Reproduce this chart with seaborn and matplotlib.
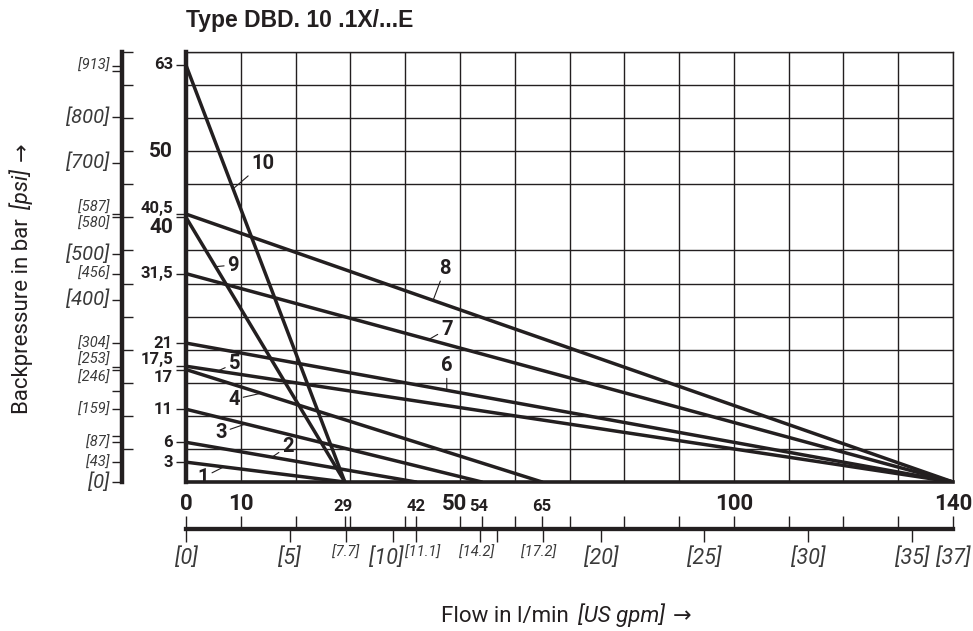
import numpy as np
import pandas as pd
import seaborn as sns
import matplotlib.pyplot as plt
from matplotlib import font_manager
from matplotlib.ticker import FixedLocator, NullFormatter

# characteristic curves: backpressure at zero flow [bar], flow at zero backpressure [l/min]
curve_ids = ['1', '2', '3', '4', '5', '6', '7', '8', '9', '10']
p_zero_flow = [3, 6, 11, 17, 17.5, 21, 31.5, 40.5, 40, 63]
q_zero_press = [29, 42, 54, 65, 140, 140, 140, 140, 29, 29]

# bar scale
bar_vals = [63, 50, 40.5, 40, 31.5, 21, 17.5, 17, 11, 6, 3]
bar_text = ['63', '50', '40,5', '40', '31,5', '21', '17,5', '17', '11', '6', '3']

# psi scale
psi_vals = [913, 800, 700, 587, 580, 500, 456, 400, 304, 253, 246, 159, 87, 43, 0]
psi_text = ['[913]', '[800]', '[700]', '[587]', '[580]', '[500]', '[456]', '[400]',
            '[304]', '[253]', '[246]', '[159]', '[87]', '[43]', '[0]']
psi_plain = [100, 200, 900]

# flow scale l/min
lpm_vals = [0, 10, 29, 42, 50, 54, 65, 100, 140]
lpm_text = ['0', '10', '29', '42', '50', '54', '65', '100', '140']

# flow scale US gpm
gpm_vals = [0, 5, 7.7, 10, 11.1, 14.2, 17.2, 20, 25, 30, 35, 37]
gpm_text = ['[0]', '[5]', '[7.7]', '[10]', '[11.1]', '[14.2]', '[17.2]',
            '[20]', '[25]', '[30]', '[35]', '[37]']
gpm_plain = [15]

PSI_PER_BAR = 14.5038
LPM_PER_GPM = 3.78541

df = pd.DataFrame({
    'curve': np.repeat(curve_ids, 2),
    'flow': np.column_stack([np.zeros(len(curve_ids)), q_zero_press]).ravel(),
    'bar': np.column_stack([p_zero_flow, np.zeros(len(curve_ids))]).ravel(),
})

sns.set_style('white')
names = {f.name for f in font_manager.fontManager.ttflist}
num_font = 'Liberation Sans Narrow' if 'Liberation Sans Narrow' in names else 'Roboto'
plt.rcParams['font.family'] = ['Roboto', 'DejaVu Sans']

ink = '#231f20'
grey = '#3a3a3a'
W, H = 973, 631

fig = plt.figure(figsize=(W / 100, H / 100), dpi=100)
ax = fig.add_axes([186 / W, 149 / H, 767 / W, 430 / H])

sns.lineplot(data=df, x='flow', y='bar', hue='curve', palette=[ink] * len(curve_ids),
             legend=False, linewidth=2.5, sort=False, estimator=None, ax=ax)

ax.set_xlim(0, 140)
ax.set_ylim(0, 65)
ax.xaxis.set_major_locator(FixedLocator(np.arange(0, 141, 10)))
ax.yaxis.set_major_locator(FixedLocator([v for v in bar_vals if v != 50]))
ax.yaxis.set_minor_locator(FixedLocator(np.arange(0, 66, 5)))
ax.xaxis.set_major_formatter(NullFormatter())
ax.yaxis.set_major_formatter(NullFormatter())
ax.tick_params(axis='x', which='both', length=0)
ax.tick_params(axis='y', which='minor', length=0)
ax.tick_params(axis='y', which='major', direction='out', length=7, width=1, color=ink, left=True)
ax.grid(True, axis='x', which='major', color=ink, lw=1.0)
ax.grid(True, axis='y', which='minor', color=ink, lw=1.0)
for side, lw in [('left', 3.2), ('bottom', 2.6), ('top', 1.0), ('right', 1.0)]:
    ax.spines[side].set_linewidth(lw)
    ax.spines[side].set_color(ink)
ax.set_xlabel('')
ax.set_ylabel('')

# psi axis
psi_loc = -0.0834
psi_ax = ax.secondary_yaxis(psi_loc, functions=(lambda b: b * PSI_PER_BAR,
                                                 lambda p: p / PSI_PER_BAR))
psi_ax.set_ticks(psi_vals + psi_plain)
psi_ax.yaxis.set_major_formatter(NullFormatter())
psi_ax.yaxis.set_minor_locator(FixedLocator([b * PSI_PER_BAR for b in range(5, 66, 5)]))
psi_ax.tick_params(which='major', direction='out', length=7, width=1, color=ink, labelleft=False)
psi_ax.tick_params(which='minor', direction='in', length=8, width=1, color=ink)
psi_ax.spines['left'].set_linewidth(3.2)
psi_ax.spines['left'].set_color(ink)

# flow axes below the chart
flow_loc = -0.1093
lpm_ax = ax.secondary_xaxis(flow_loc, functions=(lambda q: q, lambda q: q))
lpm_ax.set_ticks(list(range(0, 141, 10)) + [29, 42, 54, 65])
lpm_ax.tick_params(direction='in', length=9.5, width=1, color=ink, labelbottom=False)
gpm_ax = ax.secondary_xaxis(flow_loc, functions=(lambda q: q / LPM_PER_GPM,
                                                  lambda g: g * LPM_PER_GPM))
gpm_ax.set_ticks(gpm_vals + gpm_plain)
gpm_ax.tick_params(direction='out', length=9.5, width=1, color=ink, labelbottom=False)
for sec in (lpm_ax, gpm_ax):
    sec.spines['bottom'].set_linewidth(3)
    sec.spines['bottom'].set_color(ink)

# bar labels
bar_big = {'50', '40'}
bar_dy = {'63': 1, '40,5': 6, '40': -10, '17,5': 7, '17': -8}
for v, s in zip(bar_vals, bar_text):
    ax.annotate(s, xy=(0, v), xycoords=ax.get_yaxis_transform(),
                xytext=(-13, bar_dy.get(s, 0)), textcoords='offset pixels',
                ha='right', va='center', fontsize=15 if s in bar_big else 12,
                fontweight='bold', family=[num_font, 'DejaVu Sans'], color=ink,
                annotation_clip=False)

# psi labels
psi_big = {'[800]', '[700]', '[500]', '[400]', '[0]'}
psi_dy = {'[587]': 6, '[580]': -6, '[253]': 7, '[246]': -8}
for v, s in zip(psi_vals, psi_text):
    ax.annotate(s, xy=(psi_loc, v / PSI_PER_BAR), xycoords=ax.get_yaxis_transform(),
                xytext=(-13, psi_dy.get(s, 0)), textcoords='offset pixels',
                ha='right', va='center', fontsize=14.5 if s in psi_big else 10.5,
                style='italic', family=[num_font, 'DejaVu Sans'], color=grey,
                annotation_clip=False)

# l/min labels
lpm_big = {'0', '10', '50', '100', '140'}
lpm_dx = {'50': -5, '54': -3, '29': -2}
for v, s in zip(lpm_vals, lpm_text):
    big = s in lpm_big
    ax.annotate(s, xy=(v, 0), xycoords=ax.get_xaxis_transform(),
                xytext=(lpm_dx.get(s, 0), -27.5 if big else -29), textcoords='offset pixels',
                ha='center', va='baseline', fontsize=16 if big else 12,
                fontweight='bold', family=[num_font, 'DejaVu Sans'], color=ink,
                annotation_clip=False)

# gpm labels
gpm_small = {'[7.7]', '[11.1]', '[14.2]', '[17.2]'}
gpm_dx = {'[10]': -7, '[11.1]': 6.5, '[14.2]': -4, '[17.2]': -4}
for v, s in zip(gpm_vals, gpm_text):
    small = s in gpm_small
    ax.annotate(s, xy=(v * LPM_PER_GPM, flow_loc), xycoords=ax.get_xaxis_transform(),
                xytext=(gpm_dx.get(s, 0), -24 if small else -29), textcoords='offset pixels',
                ha='center', va='center', fontsize=10.5 if small else 15.5,
                style='italic', family=[num_font, 'DejaVu Sans'], color=grey,
                annotation_clip=False)

# curve numbers with leaders: text x, text y, flow where leader meets curve
label_pos = {'1': (3.1, 0.7, 6.9), '2': (18.6, 5.4, 15.7), '3': (6.4, 7.5, 10.9),
             '4': (8.8, 12.5, 13.7), '5': (8.8, 17.9, 5.8), '6': (47.6, 17.6, 47.6),
             '7': (47.6, 23.1, 44.3), '8': (47.3, 32.3, 45.1), '9': (8.6, 32.8, 5.4),
             '10': (14.05, 48.2, 8.6)}
for cid, p0, q0 in zip(curve_ids, p_zero_flow, q_zero_press):
    tx, ty, qa = label_pos[cid]
    ax.annotate(cid, xy=(qa, p0 * (1 - qa / q0)), xytext=(tx, ty),
                ha='center', va='center', fontsize=14.5, fontweight='bold',
                family=[num_font, 'DejaVu Sans'], color=ink, annotation_clip=False,
                arrowprops=dict(arrowstyle='-', lw=0.8, color=ink, shrinkA=0, shrinkB=0))

ax.set_title('Type DBD. 10 .1X/...E', loc='left', fontsize=16.5, fontweight='bold',
             family=['Liberation Sans', 'DejaVu Sans'], color=ink, pad=18)


# axis titles: plain words, italic unit, arrow; pieces laid out one after another
def write_parts(x, y, parts, vertical=False):
    renderer = fig.canvas.get_renderer()
    for s, style, gap in parts:
        fam = ['DejaVu Sans'] if s == '→' else ['Roboto', 'DejaVu Sans']
        t = fig.text(x / W, 1 - y / H, s, rotation=90 if vertical else 0,
                     rotation_mode='anchor', ha='left', va='baseline',
                     fontsize=16, style=style, family=fam, color=ink)
        bb = t.get_window_extent(renderer)
        if vertical:
            y -= bb.height + gap
        else:
            x += bb.width + gap


write_parts(441, 622, [('Flow in l/min', 'normal', 9), ('[US gpm]', 'italic', 8),
                       ('→', 'normal', 0)])
write_parts(28, 414, [('Backpressure in bar', 'normal', 9), ('[psi]', 'italic', 8),
                      ('→', 'normal', 0)], vertical=True)

fig.savefig('out.png', dpi=100)
